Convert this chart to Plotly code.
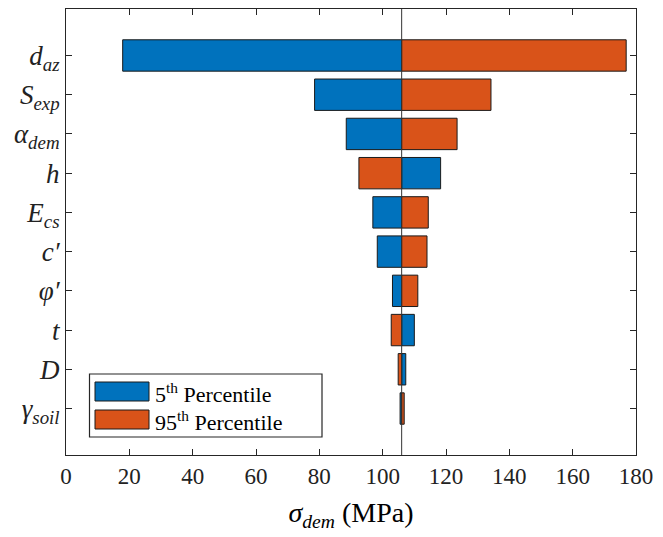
import plotly.graph_objects as go

# Sensitivity of sigma_dem to each input parameter (tornado chart)
params = [
    "<i>d</i><sub><i>az</i></sub>",
    "<i>S</i><sub><i>exp</i></sub>",
    "<i>α</i><sub><i>dem</i></sub>",
    "<i>h</i>",
    "<i>E</i><sub><i>cs</i></sub>",
    "<i>c′</i>",
    "<i>φ′</i>",
    "<i>t</i>",
    "<i>D</i>",
    "<i>γ</i><sub><i>soil</i></sub>",
]
baseline = 106.0
p05 = [17.9, 78.5, 88.5, 118.3, 96.9, 98.3, 103.1, 110.0, 107.3, 105.5]
p95 = [176.9, 134.2, 123.5, 92.5, 114.4, 114.0, 111.1, 102.7, 104.9, 106.8]
x_ticks = [0, 20, 40, 60, 80, 100, 120, 140, 160, 180]

BLUE = "#0072BD"
ORANGE = "#D95319"
FONT = "Liberation Serif"
AXIS_COLOR = "#262626"

ypos = list(range(1, len(params) + 1))

fig = go.Figure()
for vals, color, name in [(p05, BLUE, "5th"), (p95, ORANGE, "95th")]:
    fig.add_trace(go.Bar(
        y=ypos,
        x=[v - baseline for v in vals],
        base=[baseline] * len(vals),
        orientation="h",
        width=0.8,
        marker=dict(color=color, line=dict(color="#1a1a1a", width=1)),
        name=name,
        showlegend=False,
    ))

# vertical reference line at the nominal value
fig.add_shape(type="line", xref="x", yref="paper", x0=baseline, x1=baseline,
              y0=0, y1=1, line=dict(color="#333333", width=1), layer="above")

# plot-area geometry in pixels (for the hand-drawn legend box)
W, H = 663, 537
L, R, T, B = 66, 27, 9, 82
pw, ph = W - L - R, H - T - B


def px(xp):
    return (xp - L) / pw


def py(yp):
    return (H - B - yp) / ph


fig.add_shape(type="rect", xref="paper", yref="paper",
              x0=px(89.5), x1=px(322), y0=py(437), y1=py(374),
              line=dict(color=AXIS_COLOR, width=1.2), fillcolor="white", layer="above")
legend_items = [("5<sup>th</sup> Percentile", BLUE, 382, 401),
                ("95<sup>th</sup> Percentile", ORANGE, 410, 429)]
for text, color, y0, y1 in legend_items:
    fig.add_shape(type="rect", xref="paper", yref="paper",
                  x0=px(95), x1=px(149), y0=py(y1), y1=py(y0),
                  line=dict(color="#1a1a1a", width=1), fillcolor=color, layer="above")
    fig.add_annotation(xref="paper", yref="paper", x=px(153), y=py((y0 + y1) / 2 + 1),
                       text=text, showarrow=False, xanchor="left", yanchor="middle",
                       font=dict(family=FONT, size=22, color="black"))

fig.update_layout(
    width=W, height=H,
    margin=dict(l=L, r=R, t=T, b=B, pad=0),
    paper_bgcolor="white", plot_bgcolor="white",
    barmode="overlay",
    font=dict(family=FONT, color="black"),
    xaxis=dict(
        range=[0, 180], tickvals=x_ticks, ticktext=[str(v) for v in x_ticks],
        ticks="inside", ticklen=6, tickcolor=AXIS_COLOR, tickwidth=1,
        showline=True, linecolor=AXIS_COLOR, linewidth=1, mirror="allticks",
        showgrid=False, zeroline=False,
        tickfont=dict(family=FONT, size=23, color="#222222"),
        title=dict(text="<i>σ</i><sub><i>dem</i></sub> (MPa)", standoff=14,
                   font=dict(family=FONT, size=28, color="black")),
    ),
    yaxis=dict(
        range=[11.185, -0.185], tickvals=ypos, ticktext=params,
        ticks="inside", ticklen=6, tickcolor=AXIS_COLOR, tickwidth=1,
        showline=True, linecolor=AXIS_COLOR, linewidth=1, mirror="allticks",
        showgrid=False, zeroline=False,
        tickfont=dict(family=FONT, size=27, color="#222222"),
    ),
)

fig.write_html("out.html")
